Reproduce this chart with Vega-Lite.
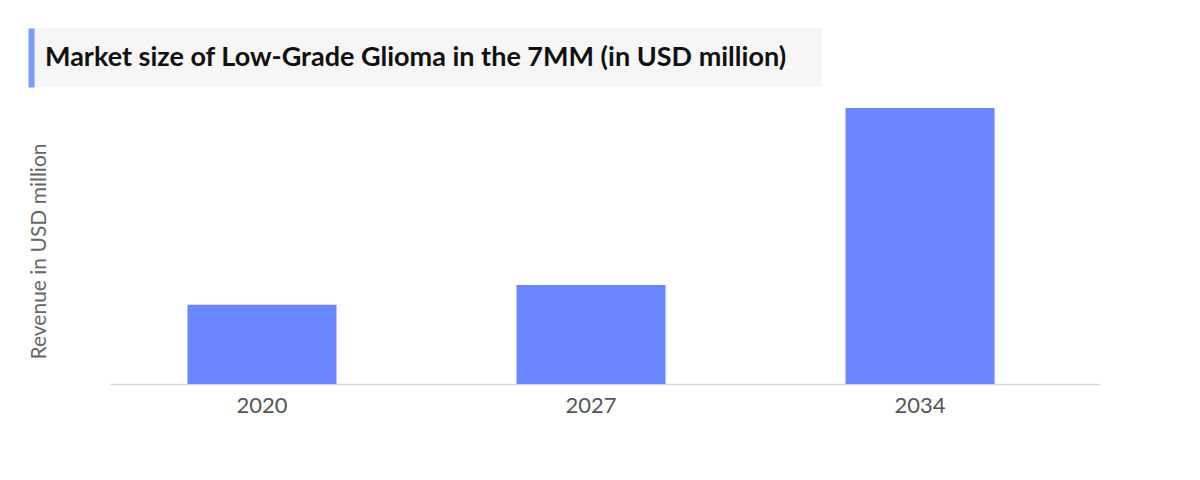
{
  "$schema": "https://vega.github.io/schema/vega-lite/v6.json",
  "background": "white",
  "padding": {"left": 28, "top": 28, "right": 0, "bottom": 0},
  "spacing": 21,
  "datasets": {
    "header": [{"pos": 0, "mid": 0.5, "label": "Market size of Low-Grade Glioma in the 7MM (in USD million)"}],
    "market": [
      {"year": "2020", "revenue": 287},
      {"year": "2027", "revenue": 359},
      {"year": "2034", "revenue": 1000}
    ]
  },
  "vconcat": [
    {
      "width": 794,
      "height": 59,
      "view": {"fill": "#f6f6f6", "stroke": null},
      "data": {"name": "header"},
      "mark": {"type": "text", "align": "left", "baseline": "middle", "dx": 17, "fontSize": 27, "fontWeight": "bold", "color": "#111111"},
      "encoding": {
        "x": {"field": "pos", "type": "quantitative", "scale": {"domain": [0, 1]}, "axis": null},
        "y": {
          "field": "mid",
          "type": "quantitative",
          "scale": {"domain": [0, 1]},
          "axis": {"domain": true, "domainColor": "#7b9cff", "domainWidth": 6, "offset": -3, "labels": false, "ticks": false, "grid": false, "title": null}
        },
        "text": {"field": "label"}
      }
    },
    {
      "width": 1072,
      "height": 276,
      "data": {"name": "market"},
      "mark": {"type": "bar", "color": "#6b87ff"},
      "encoding": {
        "x": {
          "field": "year",
          "type": "nominal",
          "scale": {"range": [82, 1072], "paddingInner": 0.5471, "paddingOuter": 0.278, "align": 0.4235},
          "axis": {"title": null, "labelAngle": 0, "labelFontSize": 22, "labelColor": "#555555", "labelPadding": 11, "ticks": false, "domainColor": "#d9d9d9", "domainWidth": 1.5}
        },
        "y": {
          "field": "revenue",
          "type": "quantitative",
          "scale": {"domain": [0, 1000], "nice": false},
          "axis": {"title": "Revenue in USD million", "titleFontSize": 21, "titleFontWeight": "normal", "titleColor": "#666666", "titlePadding": 61, "titleY": 143, "offset": -82, "labels": false, "ticks": false, "domain": false, "grid": false, "minExtent": 0}
        }
      }
    }
  ],
  "config": {
    "font": "Lato",
    "view": {"stroke": null}
  }
}
